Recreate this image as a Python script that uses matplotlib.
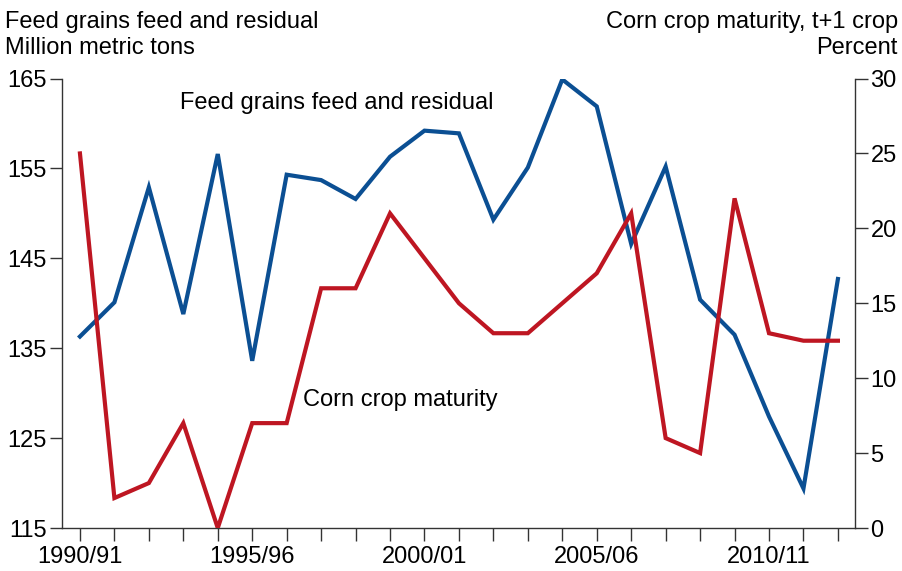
import matplotlib
matplotlib.use("Agg")
import matplotlib.pyplot as plt
import numpy as np

plt.rcParams['font.family'] = ['Liberation Sans', 'DejaVu Sans']

years = list(range(1990, 2013))
year_labels = ['%d/%02d' % (y, (y + 1) % 100) for y in years]

# Feed grains feed and residual, million metric tons
feed_residual = [136.3, 140.1, 152.9, 138.8, 156.6, 133.6, 154.3, 153.7, 151.6, 156.3,
                 159.2, 158.9, 149.3, 155.1, 164.9, 161.9, 146.6, 155.2, 140.4, 136.5,
                 127.4, 119.4, 142.7]
# Corn crop maturity (t+1 crop), percent
corn_maturity = [25, 2, 3, 7, 0, 7, 7, 16, 16, 21,
                 18, 15, 13, 13, 15, 17, 21, 6, 5, 22,
                 13, 12.5, 12.5]

labelled = ['1990/91', '1995/96', '2000/01', '2005/06', '2010/11']

blue = '#0b4f93'
red = '#be1622'
fs = 17

W, H = 903, 571
fig = plt.figure(figsize=(W / 100, H / 100), dpi=100)
ax = fig.add_axes([0.0687, 0.0753, 0.8783, 0.7872])
ax2 = ax.twinx()

x = np.arange(len(years))
ax.plot(x, feed_residual, color=blue, lw=3.0, solid_joinstyle='miter', zorder=3)
ax2.plot(x, corn_maturity, color=red, lw=3.0, solid_joinstyle='miter', zorder=3)

ax.set_xlim(-0.52, 22.5)
ax.set_ylim(115, 165)
ax.set_yticks(np.arange(115, 166, 10))
ax2.set_ylim(0, 30)
ax2.set_yticks(np.arange(0, 31, 5))

ax.set_xticks(x)
ax.set_xticklabels([lab if lab in labelled else '' for lab in year_labels])

for a in (ax, ax2):
    a.spines['top'].set_visible(False)
    for s in a.spines.values():
        s.set_color('#333333')
        s.set_linewidth(1.0)
    a.tick_params(direction='out', length=9, width=1.0, color='#333333',
                  labelsize=fs, pad=2)
ax.spines['right'].set_visible(False)
ax2.spines['left'].set_visible(False)
ax2.spines['bottom'].set_visible(False)
ax.tick_params(axis='x', pad=4)


def put(px, py, s, ha='left'):
    fig.text(px / W, 1 - py / H, s, fontsize=fs, ha=ha, va='center')


put(180, 103, 'Feed grains feed and residual')
put(303, 400, 'Corn crop maturity')
put(5, 22, 'Feed grains feed and residual')
put(5, 48, 'Million metric tons')
put(898, 22, 'Corn crop maturity, t+1 crop', ha='right')
put(898, 48, 'Percent', ha='right')

fig.savefig('out.png', dpi=100)
